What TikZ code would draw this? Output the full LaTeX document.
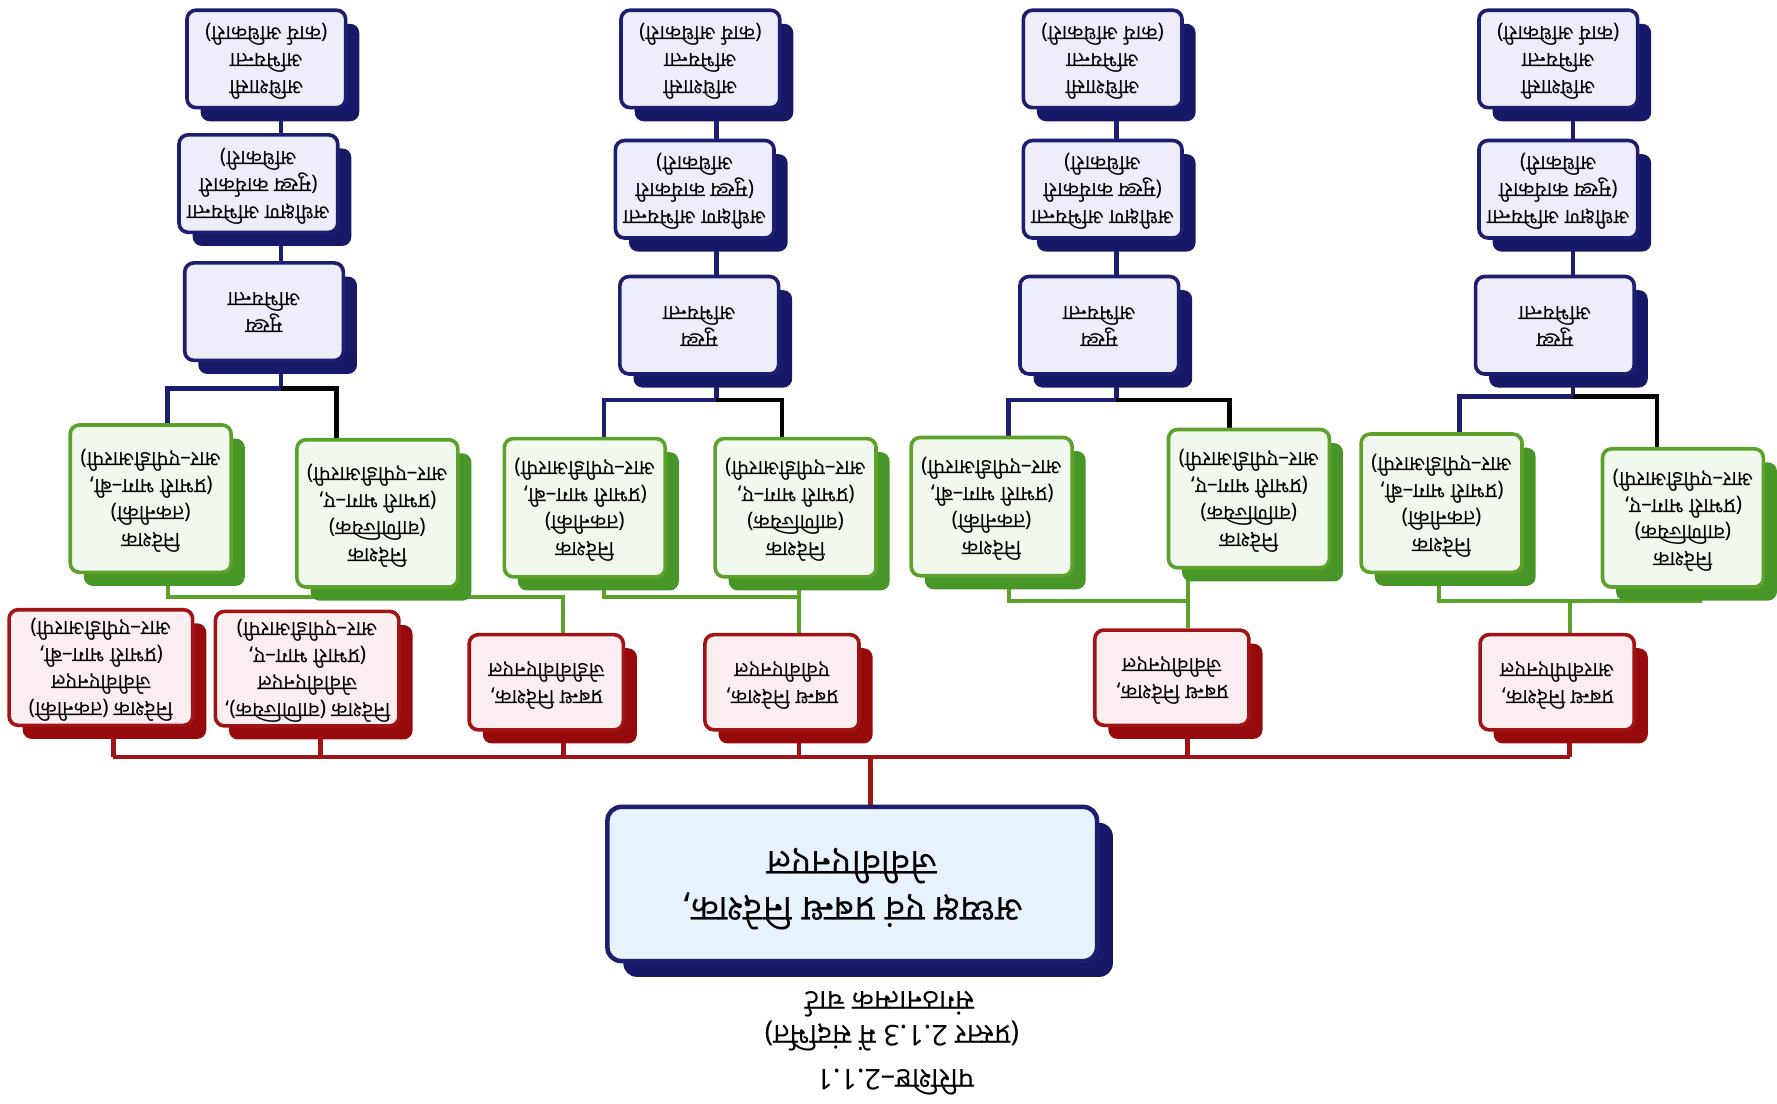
\documentclass[tikz,border=0pt]{standalone}
\usepackage{fontspec}
\usepackage{graphicx}
\usetikzlibrary{shadows,backgrounds}
\newfontfamily\hindi[Script=Devanagari]{Noto Sans}
\newcommand{\ulta}[1]{\rotatebox[origin=c]{180}{\begin{tabular}{@{}c@{}}#1\end{tabular}}}
\definecolor{navy}{RGB}{30,30,112}
\definecolor{navyshade}{RGB}{24,24,104}
\definecolor{bluefill}{RGB}{238,238,250}
\definecolor{mainfill}{RGB}{232,242,252}
\definecolor{grn}{RGB}{92,162,42}
\definecolor{grnshade}{RGB}{72,150,40}
\definecolor{grnfill}{RGB}{241,248,237}
\definecolor{rd}{RGB}{160,20,22}
\definecolor{rdshade}{RGB}{150,10,12}
\definecolor{rdfill}{RGB}{250,238,240}
\begin{document}
\begin{tikzpicture}[x=0.5pt,y=-0.5pt,
	box/.style={draw, rounded corners=4pt, line width=1.6pt, inner sep=1.5pt, align=center,
		font=\hindi\bfseries\fontsize{9.3}{11.8}\selectfont},
	bluebox/.style={box, draw=navy, fill=bluefill, minimum width=70pt, minimum height=43pt,
		drop shadow={shadow xshift=6pt, shadow yshift=-6pt, fill=navyshade, opacity=1}},
	greenbox/.style={box, draw=grn, fill=grnfill, minimum width=71pt, minimum height=61pt,
		drop shadow={shadow xshift=6pt, shadow yshift=-6pt, fill=grnshade, opacity=1}},
	redbox/.style={box, draw=rd, fill=rdfill, minimum width=68pt, minimum height=42pt,
		drop shadow={shadow xshift=6pt, shadow yshift=-6pt, fill=rdshade, opacity=1}},
	mainbox/.style={box, draw=navy, fill=mainfill, line width=2pt, rounded corners=6pt,
		minimum width=216pt, minimum height=68pt, font=\hindi\bfseries\fontsize{16}{19.5}\selectfont,
		drop shadow={shadow xshift=7pt, shadow yshift=-7pt, fill=navyshade, opacity=1}},
	caption/.style={rotate=180, inner sep=1pt, font=\hindi\bfseries\fontsize{12.6}{14}\selectfont},
	redline/.style={draw=rd, line width=2pt},
	greenline/.style={draw=grn, line width=1.8pt},
	navyline/.style={draw=navy, line width=2pt},
	blackline/.style={draw=black, line width=2pt}]
	\useasboundingbox (0,0) rectangle (1568,974);

	% engineers, one column above each managing director
	\foreach \c/\xe/\xs/\xc/\ys/\yc in {a/235/228/233/162/275, b/618/613/617/167/287, c/973/973/970/167/287, d/1375/1375/1372/167/287}{
		\node[bluebox] (EE\c) at (\xe,52) {\ulta{अधिशासी\\अभियन्ता\\(कार्य अधिकारी)}};
		\node[bluebox] (SE\c) at (\xs,\ys) {\ulta{अधीक्षण अभियन्ता\\(मुख्य कार्यकारी\\अधिकारी)}};
		\node[bluebox] (CE\c) at (\xc,\yc) {\ulta{मुख्य\\अभियन्ता}};
	}

	% directors
	\node[greenbox, minimum height=65pt] (DTa) at (133,440) {\ulta{निदेशक\\(तकनीकी)\\(प्रभारी भाग–बी,\\आर–एपीडीआरपी)}};
	\node[greenbox, minimum height=65pt] (DCa) at (333,453) {\ulta{निदेशक\\(वाणिज्यिक)\\(प्रभारी भाग–ए,\\आर–एपीडीआरपी)}};
	\node[greenbox] (DTb) at (516,448) {\ulta{निदेशक\\(तकनीकी)\\(प्रभारी भाग–बी,\\आर–एपीडीआरपी)}};
	\node[greenbox] (DCb) at (702,448) {\ulta{निदेशक\\(वाणिज्यिक)\\(प्रभारी भाग–ए,\\आर–एपीडीआरपी)}};
	\node[greenbox] (DTc) at (875,447) {\ulta{निदेशक\\(तकनीकी)\\(प्रभारी भाग–बी,\\आर–एपीडीआरपी)}};
	\node[greenbox] (DCc) at (1102,440) {\ulta{निदेशक\\(वाणिज्यिक)\\(प्रभारी भाग–ए,\\आर–एपीडीआरपी)}};
	\node[greenbox] (DTd) at (1272,444) {\ulta{निदेशक\\(तकनीकी)\\(प्रभारी भाग–बी,\\आर–एपीडीआरपी)}};
	\node[greenbox] (DCd) at (1485,457) {\ulta{निदेशक\\(वाणिज्यिक)\\(प्रभारी भाग–ए,\\आर–एपीडीआरपी)}};

	% red row
	\node[redbox, minimum width=81pt, minimum height=51pt] (DT) at (89,589) {\ulta{निदेशक (तकनीकी)\\जेवीवीएनएल\\(प्रभारी भाग–बी,\\आर–एपीडीआरपी)}};
	\node[redbox, minimum width=81pt, minimum height=50pt] (DC) at (271,590) {\ulta{निदेशक (वाणिज्यिक),\\जेवीवीएनएल\\(प्रभारी भाग–ए,\\आर–एपीडीआरपी)}};
	\node[redbox] (MDa) at (482,602) {\ulta{प्रबन्ध निदेशक,\\जेडीवीवीएनएल}};
	\node[redbox] (MDb) at (690,602) {\ulta{प्रबन्ध निदेशक,\\एवीवीएनएल}};
	\node[redbox] (MDc) at (1034,598) {\ulta{प्रबन्ध निदेशक,\\जेवीवीएनएल}};
	\node[redbox] (MDd) at (1374,602) {\ulta{प्रबन्ध निदेशक,\\आरवीपीएनएल}};

	\node[mainbox] (CMD) at (752,780) {\ulta{अध्यक्ष एवं प्रबन्ध निदेशक,\\जेवीवीएनएल}};

	\node[caption] (cap3) at (785,886) {संगठनात्मक चार्ट};
	\node[caption] (cap2) at (787,914) {(प्रस्तर 2.1.3 में संदर्भित)};
	\node[caption] (cap1) at (790,955) {परिशिष्ट–2.1.1};

	\begin{scope}[on background layer]
		% red bus
		\coordinate (rb0) at (768,668);
		\coordinate (rb1) at (100,668);
		\coordinate (rb2) at (283,668);
		\coordinate (rb3) at (497,668);
		\coordinate (rb4) at (705,668);
		\coordinate (rb5) at (1048,668);
		\coordinate (rb6) at (1385,668);
		\draw[redline] (rb1) -- (rb6);
		\draw[redline] (rb0) -- (rb0 |- CMD.north);
		\draw[redline] (rb1) -- (rb1 |- DT.south);
		\draw[redline] (rb2) -- (rb2 |- DC.south);
		\draw[redline] (rb3) -- (rb3 |- MDa.south);
		\draw[redline] (rb4) -- (rb4 |- MDb.south);
		\draw[redline] (rb5) -- (rb5 |- MDc.south);
		\draw[redline] (rb6) -- (rb6 |- MDd.south);

		% green links
		\coordinate (gx1) at (148,527);
		\coordinate (gx2) at (355,527);
		\coordinate (gy1) at (497,527);
		\coordinate (gx3) at (533,527);
		\coordinate (gx4) at (705,527);
		\coordinate (gx5) at (890,530);
		\coordinate (gx6) at (1048,530);
		\coordinate (gx7) at (1270,530);
		\coordinate (gx8) at (1500,530);
		\coordinate (gy4) at (1385,530);
		\draw[greenline] (gx1 |- DTa.south) -- (gx1) -- (gy1) -- (gy1 |- MDa.north);
		\draw[greenline] (gx2) -- (gx2 |- DCa.south);
		\draw[greenline] (gx3 |- DTb.south) -- (gx3) -- (gx4) -- (gx4 |- MDb.north);
		\draw[greenline] (gx4) -- (gx4 |- DCb.south);
		\draw[greenline] (gx5 |- DTc.south) -- (gx5) -- (gx6) -- (gx6 |- MDc.north);
		\draw[greenline] (gx6) -- (gx6 |- DCc.south);
		\draw[greenline] (gx7 |- DTd.south) -- (gx7) -- (gx8) -- (gx8 |- DCd.south);
		\draw[greenline] (gy4) -- (gy4 |- MDd.north);

		% chief engineer to directors
		\foreach \c/\xb/\xl/\xr/\yb in {a/248/148/297/343, b/632/533/690/353, c/985/890/1085/353, d/1388/1288/1462/350}{
			\coordinate (nb\c) at (\xb,\yb);
			\coordinate (nl\c) at (\xl,\yb);
			\coordinate (nr\c) at (\xr,\yb);
			\draw[navyline] (nb\c |- EE\c.south) -- (nb\c |- SE\c.north);
			\draw[navyline] (nb\c |- SE\c.south) -- (nb\c |- CE\c.north);
			\draw[navyline] (nb\c |- CE\c.south) -- (nb\c) -- (nl\c) -- (nl\c |- DT\c.north);
			\draw[blackline] (nb\c) -- (nr\c) -- (nr\c |- DC\c.north);
		}
	\end{scope}
\end{tikzpicture}
\end{document}
